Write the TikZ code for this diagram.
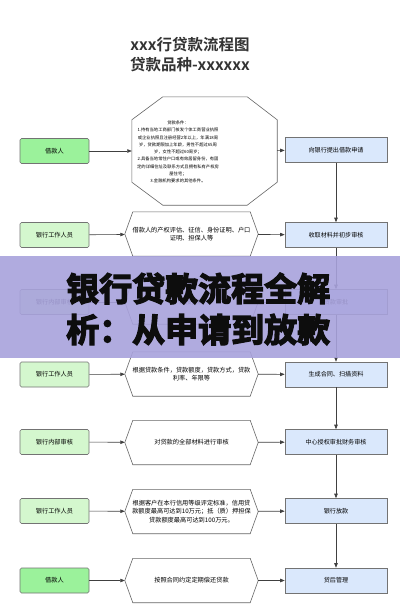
\documentclass[tikz,border=0pt]{standalone}
\usepackage{fontspec}
\setmainfont{Noto Sans CJK SC}[BoldFont={Noto Sans CJK SC Bold}]
\newfontfamily\heavyfont{Noto Sans CJK SC Bold}[FakeBold=4]
\usetikzlibrary{arrows.meta}
\definecolor{lendgreen}{HTML}{9BF29B}
\definecolor{staffgreen}{HTML}{D4F7CE}
\definecolor{stageblue}{HTML}{DAE8FC}
\definecolor{bandpurple}{HTML}{A8A2DC}
\newcommand\hexout[1]{\draw[black!60,line width=0.6pt] (#1.west) -- ([xshift=8pt]#1.north west) -- ([xshift=-8pt]#1.north east) -- (#1.east) -- ([xshift=-8pt]#1.south east) -- ([xshift=8pt]#1.south west) -- cycle;}

\begin{document}
\begin{tikzpicture}[x=1pt,y=-1pt,
  who/.style={draw=black!55,line width=0.6pt,rounded corners=1.5pt,minimum width=69pt,minimum height=25pt,inner sep=0pt,font=\fontsize{6.2}{7}\selectfont},
  lender/.style={who,fill=lendgreen},
  staff/.style={who,fill=staffgreen},
  hexa/.style={minimum width=133pt,minimum height=44pt,inner sep=0pt,align=center,font=\fontsize{6.2}{8.5}\selectfont},
  stage/.style={draw=black!55,line width=0.6pt,fill=stageblue,minimum width=102pt,minimum height=25pt,inner sep=0pt,font=\fontsize{6.1}{7}\selectfont},
  link/.style={draw=black!75,line width=0.6pt,-{Triangle[length=4.5pt,width=3.5pt]}}]
\useasboundingbox[fill=white] (0,0) rectangle (400,616);

\node[font=\fontsize{15.5}{20}\bfseries, text=black!80, align=center] (title) at (190,55) {xxx行贷款流程图\\贷款品种-xxxxxx};

\node[lender] (who1) at (54.5,151) {借款人};
\node[minimum width=145pt, minimum height=108pt, inner sep=0pt] (cond) at (204.5,151) {};
\draw[black!60, line width=0.6pt] ([yshift=-23pt]cond.north west) -- ([xshift=31pt]cond.north west) -- ([xshift=-30pt]cond.north east) -- ([yshift=-23pt]cond.north east) -- ([yshift=23pt]cond.south east) -- ([xshift=-30pt]cond.south east) -- ([xshift=31pt]cond.south west) -- ([yshift=23pt]cond.south west) -- cycle;
\node[align=center, font=\fontsize{4.3}{7.3}\selectfont] (condtext) at (178,152) {贷款条件：\\1.持有当地工商部门核发个体工商营业执照\\或企业执照且注册经营2年以上，年满18周\\岁，贷款期限加上年龄，男性不超过65周\\岁，女性不超过60周岁；\\2.具备当地常住户口或有效居留身份，有固\\定的详细住址及联系方式且拥有私有产权房\\屋住宅；\\3.金融机构要求的其他条件。};
\node[stage] (step1) at (336,150) {向银行提出借款申请};
\draw[link] (who1) -- (cond);
\draw[link] (cond) -- (step1);

\node[staff] (who2) at (54.5,235) {银行工作人员};
\node[hexa] (task2) at (191.5,234) {借款人的产权评估、征信、身份证明、户口\\证明、担保人等};
\hexout{task2}
\node[stage] (step2) at (336,235) {收取材料并初步审核};
\draw[link] (who2) -- (task2);
\draw[link] (task2) -- (step2);

\node[staff] (who3) at (54.5,302) {银行内部审核};
\node[hexa] (task3) at (191.5,302) {审核资料};
\hexout{task3}
\node[stage] (step3) at (336,302) {贷款审批};
\draw[link] (who3) -- (task3);
\draw[link] (task3) -- (step3);

\node[staff] (who4) at (54.5,374.5) {银行工作人员};
\node[hexa] (task4) at (191.5,374) {根据贷款条件，贷款额度，贷款方式，贷款\\利率、年限等};
\hexout{task4}
\node[stage] (step4) at (336,374.5) {生成合同、扫描资料};
\draw[link] (who4) -- (task4);
\draw[link] (task4) -- (step4);

\node[staff] (who5) at (54.5,442) {银行内部审核};
\node[hexa] (task5) at (191.5,442.5) {对贷款的全部材料进行审核};
\hexout{task5}
\node[stage] (step5) at (336,442) {中心授权审批财务审核};
\draw[link] (who5) -- (task5);
\draw[link] (task5) -- (step5);

\node[staff] (who6) at (54.5,511) {银行工作人员};
\node[hexa] (task6) at (191.5,511.5) {根据客户在本行信用等级评定标准，信用贷\\款额度最高可达到10万元；抵（质）押担保\\贷款额度最高可达到100万元。};
\hexout{task6}
\node[stage] (step6) at (336,511) {银行放款};
\draw[link] (who6) -- (task6);
\draw[link] (task6) -- (step6);

\node[lender] (who7) at (54.5,580.5) {借款人};
\node[hexa] (task7) at (191.5,580.5) {按照合同约定定期偿还贷款};
\hexout{task7}
\node[stage] (step7) at (336,580.5) {贷后管理};
\draw[link] (who7) -- (task7);
\draw[link] (task7) -- (step7);

\draw[link] (step1) -- (step2);
\draw[link] (step2) -- (step3);
\draw[link] (step3) -- (step4);
\draw[link] (step4) -- (step5);
\draw[link] (step5) -- (step6);
\draw[link] (step6) -- (step7);

\fill[bandpurple, fill opacity=0.9] (0,256) rectangle (400,358);
\node[anchor=west, align=left, inner sep=0pt, text=black!95, font=\heavyfont\fontsize{33}{41}\selectfont] (band) at (66,309) {银行贷款流程全解\\析：从申请到放款};
\end{tikzpicture}
\end{document}
